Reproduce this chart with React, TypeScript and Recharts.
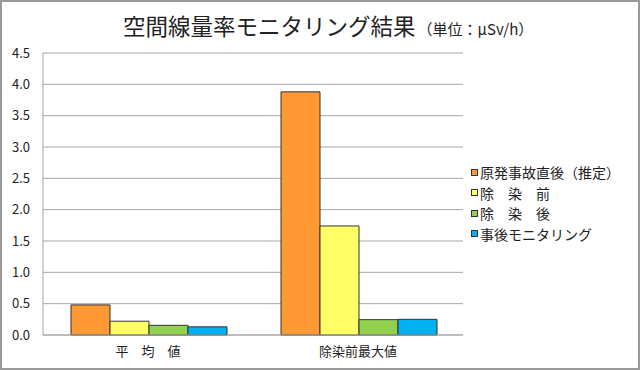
import { BarChart, Bar, XAxis, YAxis, CartesianGrid } from "recharts";

const categories = ["平　均　値", "除染前最大値"];
const seriesNames = ["原発事故直後（推定）", "除　染　前", "除　染　後", "事後モニタリング"];
const seriesColors = ["#FF9933", "#FFFF66", "#92D050", "#00B0F0"];
const afterAccident = [0.48, 3.88];
const beforeDecon = [0.22, 1.74];
const afterDecon = [0.155, 0.245];
const followUp = [0.13, 0.25];
const yTicks = [0, 0.5, 1, 1.5, 2, 2.5, 3, 3.5, 4, 4.5];

const seriesValues = [afterAccident, beforeDecon, afterDecon, followUp];
const data = categories.map((name, i) => {
  const row: Record<string, string | number> = { name };
  seriesNames.forEach((s, j) => {
    row[s] = seriesValues[j][i];
  });
  return row;
});

const font = "'Noto Sans CJK JP', 'Noto Sans', sans-serif";

const LegendBox = () => (
  <div
    style={{
      position: "absolute",
      left: 471,
      top: 162,
      fontFamily: font,
      fontSize: 14,
      color: "#222",
      whiteSpace: "nowrap",
    }}
  >
    {seriesNames.map((s, i) => (
      <div key={s} style={{ display: "flex", alignItems: "center", height: 20.5 }}>
        <span
          style={{
            width: 5,
            height: 5,
            background: seriesColors[i],
            border: "1px solid #333",
            marginRight: 2,
          }}
        />
        <span>{s}</span>
      </div>
    ))}
  </div>
);

export default function App() {
  return (
    <div style={{ position: "absolute", left: 0, top: 0, width: 640, height: 370, background: "#fff" }}>
      <div
        style={{
          position: "absolute",
          left: 123,
          top: 9,
          fontFamily: font,
          color: "#222",
          whiteSpace: "nowrap",
        }}
      >
        <span style={{ fontSize: 22.5 }}>空間線量率モニタリング結果</span>
        <span style={{ fontSize: 15, marginLeft: 2 }}>（単位：μSv/h）</span>
      </div>
      <div style={{ position: "absolute", left: 0, top: 0 }}>
        <BarChart
          width={640}
          height={370}
          data={data}
          margin={{ top: 53, right: 177, bottom: 0, left: 0 }}
          barGap={0}
          barCategoryGap={28}
        >
          <CartesianGrid horizontal vertical={false} stroke="#a6a6a6" />
          <XAxis
            dataKey="name"
            height={35}
            stroke="#a6a6a6"
            tickLine={false}
            tickSize={0}
            tickMargin={12}
            tick={{ fill: "#222", fontSize: 13, fontFamily: font }}
          />
          <YAxis
            width={43}
            domain={[0, 4.5]}
            ticks={yTicks}
            interval={0}
            stroke="#a6a6a6"
            tickLine={false}
            tickSize={0}
            tickMargin={13}
            tickFormatter={(v: number) => v.toFixed(1)}
            tick={{ fill: "#222", fontSize: 13, fontFamily: font }}
          />
          {seriesNames.map((s, i) => (
            <Bar
              key={s}
              dataKey={s}
              fill={seriesColors[i]}
              stroke="#333"
              strokeWidth={1}
              isAnimationActive={false}
            />
          ))}
        </BarChart>
      </div>
      <LegendBox />
      <div
        style={{
          position: "absolute",
          left: 0,
          top: 0,
          width: 640,
          height: 370,
          boxSizing: "border-box",
          border: "2px solid #9a9a9a",
          pointerEvents: "none",
        }}
      />
    </div>
  );
}
